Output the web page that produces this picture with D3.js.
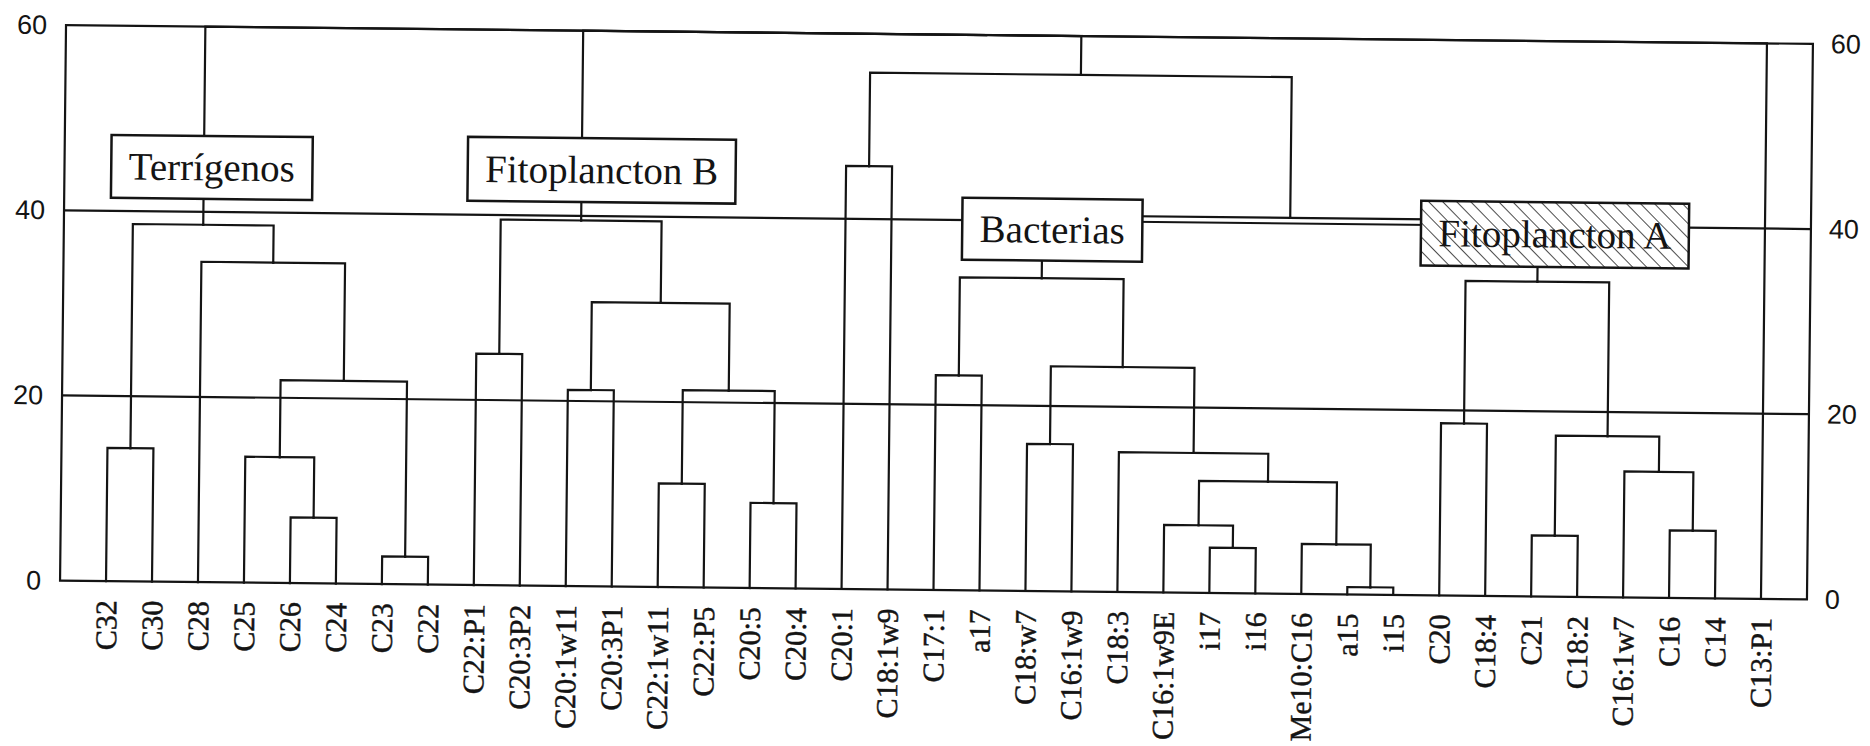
<!DOCTYPE html>
<html>
<head>
<meta charset="utf-8">
<script src="https://cdn.jsdelivr.net/npm/d3@7"></script>
<style>
  html, body { margin: 0; padding: 0; background: #fff; }
  svg { display: block; }
</style>
</head>
<body>
<svg id="chart" width="1870" height="746"></svg>
<script>
// Fatty-acid markers, in dendrogram leaf order
const leafLabels = ["C32","C30","C28","C25","C26","C24","C23","C22",
  "C22:P1","C20:3P2","C20:1w11","C20:3P1","C22:1w11","C22:P5","C20:5","C20:4",
  "C20:1","C18:1w9","C17:1","a17","C18:w7","C16:1w9","C18:3","C16:1w9E",
  "i17","i16","Me10:C16","a15","i15","C20","C18:4","C21","C18:2","C16:1w7",
  "C16","C14","C13:P1"];

// Agglomeration steps: [left, right, linkage distance]; a number points to an earlier row
const linkage = [
  ["C32", "C30", 14.4],          // 0
  ["C26", "C24", 7.1],           // 1
  ["C25", 1, 13.6],              // 2
  ["C23", "C22", 3.0],           // 3
  [2, 3, 21.9],                  // 4
  ["C28", 4, 34.6],              // 5
  [0, 5, 38.6],                  // 6
  ["C22:P1", "C20:3P2", 25.0],   // 7
  ["C20:1w11", "C20:3P1", 21.2], // 8
  ["C22:1w11", "C22:P5", 11.2],  // 9
  ["C20:5", "C20:4", 9.2],       // 10
  [9, 10, 21.3],                 // 11
  [8, 11, 30.7],                 // 12
  [7, 12, 39.5],                 // 13
  ["C20:1", "C18:1w9", 45.7],    // 14
  ["C17:1", "a17", 23.2],        // 15
  ["C18:w7", "C16:1w9", 15.9],   // 16
  ["i17", "i16", 4.9],           // 17
  ["C16:1w9E", 17, 7.3],         // 18
  ["a15", "i15", 0.8],           // 19
  ["Me10:C16", 19, 5.4],         // 20
  [18, 20, 12.1],                // 21
  ["C18:3", 21, 15.1],           // 22
  [16, 22, 24.3],                // 23
  [15, 23, 33.8],                // 24
  ["C20", "C18:4", 18.6],        // 25
  ["C21", "C18:2", 6.6],         // 26
  ["C16", "C14", 7.3],           // 27
  ["C16:1w7", 27, 13.6],         // 28
  [26, 28, 17.4],                // 29
  [25, 29, 34.0],                // 30
  [24, 30, 40.6],                // 31
  [14, 31, 55.8]                 // 32
];
const rootChildren = [6, 13, 32, "C13:P1"];
const rootHeight = 60;

const yTicks = [0, 20, 40, 60];

// Named clusters and the linkage row each one labels
const groupNames = ["Terrígenos", "Fitoplancton B", "Bacterias", "Fitoplancton A"];
const groupNodes = [6, 13, 24, 30];

// ---- layout / style ----
const plot = { x0: 63, x1: 1810, yTop: 34.5, yBottom: 590 };
const tilt = { angle: 0.615, cx: 936, cy: 311 };
const boxLayout = [
  { top: 48.2, bottom: 41.4, dx: 8,  hatch: false },
  { top: 48.4, bottom: 41.5, dx: 20, hatch: false },
  { top: 42.4, bottom: 35.7, dx: 10, hatch: false },
  { top: 42.6, bottom: 35.6, dx: 17, hatch: true }
];
const ink = "#141414";
const lineW = 2.2;

const svg = d3.select("#chart");

const defs = svg.append("defs");
defs.append("pattern")
    .attr("id", "hatch")
    .attr("patternUnits", "userSpaceOnUse")
    .attr("width", 10).attr("height", 10)
    .attr("patternTransform", "rotate(-45)")
  .append("line")
    .attr("x1", 0).attr("y1", 0).attr("x2", 0).attr("y2", 10)
    .attr("stroke", "#1e1e1e").attr("stroke-width", 1.6);

const g = svg.append("g")
  .attr("transform", `rotate(${tilt.angle},${tilt.cx},${tilt.cy})`);

const x = d3.scalePoint().domain(leafLabels).range([plot.x0, plot.x1]).padding(1);
const y = d3.scaleLinear().domain([0, 60]).range([plot.yBottom, plot.yTop]);

// Build the hierarchy from the linkage table
function build(ref) {
  if (typeof ref === "string") return { name: ref, dist: 0 };
  const [a, b, h] = linkage[ref];
  return { name: "n" + ref, row: ref, dist: h, children: [build(a), build(b)] };
}
const root = d3.hierarchy({ name: "root", dist: rootHeight, children: rootChildren.map(build) });

root.eachAfter(n => {
  if (!n.children) n.px = x(n.data.name);
  else n.px = (n.children[0].px + n.children[n.children.length - 1].px) / 2;
});

// Frame and reference lines
g.append("rect")
  .attr("x", plot.x0).attr("y", y(60))
  .attr("width", plot.x1 - plot.x0).attr("height", y(0) - y(60))
  .attr("fill", "none").attr("stroke", ink).attr("stroke-width", lineW);

g.append("g").selectAll("line")
  .data([20, 40])
  .join("line")
    .attr("x1", plot.x0).attr("x2", plot.x1)
    .attr("y1", d => y(d)).attr("y2", d => y(d))
    .attr("stroke", ink).attr("stroke-width", lineW);

// Dendrogram branches: each child gets a vertical up to its parent's distance, then across to the parent
const branches = root.descendants().filter(n => n.parent);
g.append("g")
  .attr("fill", "none").attr("stroke", ink).attr("stroke-width", lineW)
  .attr("stroke-linecap", "square")
  .selectAll("path")
  .data(branches)
  .join("path")
    .attr("d", n => `M${n.px},${y(n.data.dist)}V${y(n.parent.data.dist)}H${n.parent.px}`);

// Axes
const axisFont = "'Liberation Sans', Arial, Helvetica, sans-serif";
const left = g.append("g")
  .attr("transform", `translate(${plot.x0},0)`)
  .call(d3.axisLeft(y).tickValues(yTicks).tickSize(0).tickPadding(19));
const right = g.append("g")
  .attr("transform", `translate(${plot.x1},0)`)
  .call(d3.axisRight(y).tickValues(yTicks).tickSize(0).tickPadding(18));
[left, right].forEach(ax => {
  ax.select(".domain").remove();
  ax.selectAll("text")
    .attr("font-family", axisFont).attr("font-size", 27).attr("fill", ink);
});

const bottom = g.append("g")
  .attr("transform", `translate(0,${y(0)})`)
  .call(d3.axisBottom(x).tickSize(0));
bottom.select(".domain").remove();
bottom.selectAll("text")
  .attr("transform", "rotate(-90)")
  .attr("x", -19).attr("y", 0).attr("dy", "0.34em")
  .attr("text-anchor", "end")
  .attr("font-family", "'Liberation Serif', 'Times New Roman', Times, serif")
  .attr("font-size", 30)
  .attr("fill", ink)
  .attr("stroke", ink).attr("stroke-width", 0.45);

// Cluster name boxes
const nodeByRow = new Map();
root.each(n => { if (n.data.row !== undefined) nodeByRow.set(n.data.row, n); });

const boxes = g.append("g");
groupNames.forEach((name, i) => {
  const node = nodeByRow.get(groupNodes[i]);
  const lay = boxLayout[i];
  const bx = boxes.append("g");
  const cx = node.px + lay.dx;
  const y0 = y(lay.top), y1 = y(lay.bottom);
  const rect = bx.append("rect").attr("y", y0).attr("height", y1 - y0)
    .attr("fill", "#fff");
  const hatch = lay.hatch ? bx.append("rect").attr("y", y0).attr("height", y1 - y0)
    .attr("fill", "url(#hatch)") : null;
  const border = bx.append("rect").attr("y", y0).attr("height", y1 - y0)
    .attr("fill", "none").attr("stroke", ink).attr("stroke-width", 2.5);
  const t = bx.append("text")
    .attr("x", cx).attr("y", (y0 + y1) / 2 + 13)
    .attr("text-anchor", "middle")
    .attr("font-family", "'Liberation Serif', 'Times New Roman', Times, serif")
    .attr("font-size", 39)
    .attr("fill", ink)
    .text(name);
  const w = t.node().getComputedTextLength() + 35;
  [rect, hatch, border].forEach(r => { if (r) r.attr("x", cx - w / 2).attr("width", w); });
});
</script>
</body>
</html>
